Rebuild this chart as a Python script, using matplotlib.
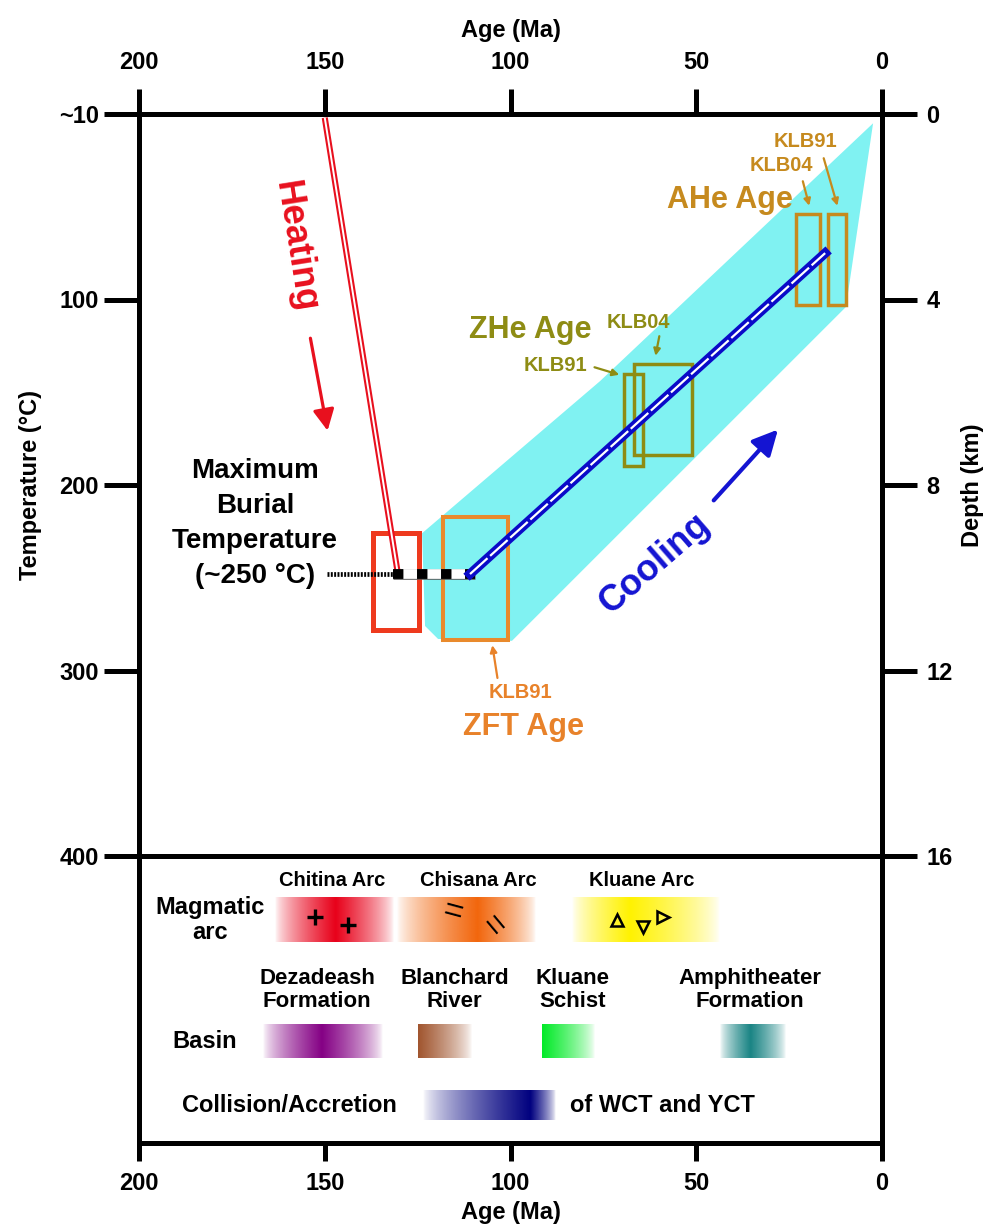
import numpy as np
import matplotlib
matplotlib.use("Agg")
import matplotlib.pyplot as plt
from matplotlib.patches import Rectangle, Polygon

plt.rcParams['font.family'] = ['Liberation Sans', 'DejaVu Sans']
plt.rcParams['font.weight'] = 'bold'
plt.rcParams['axes.labelweight'] = 'bold'
plt.rcParams['lines.scale_dashes'] = False

# ---------------- data ----------------
age_ticks = [200, 150, 100, 50, 0]
age_tick_labels = ['200', '150', '100', '50', '0']
temp_ticks = [0, 100, 200, 300, 400]
temp_tick_labels = ['~10', '100', '200', '300', '400']
depth_ticks = [0, 4, 8, 12, 16]

# thermal history path
heating_age = [150.0, 130.3]
heating_temp = [2.0, 248.0]
burial_lead_age = [149.4, 130.3]
burial_age = [131.6, 109.6]
burial_temp = [248.0, 248.0]
cooling_age = [110.9, 15.3]
cooling_temp = [248.0, 75.0]

# cooling envelope
envelope_age = [2.4, 75.9, 123.8, 123.0, 119.5, 99.6, 9.7]
envelope_temp = [5.0, 144.0, 226.0, 276.0, 283.0, 284.0, 104.0]

# age-temperature boxes
box_names = ['Max burial', 'ZFT KLB91', 'ZHe KLB91', 'ZHe KLB04', 'AHe KLB04', 'AHe KLB91']
box_age_old = [137.0, 118.2, 69.4, 66.8, 23.1, 14.5]
box_age_young = [124.6, 100.7, 64.3, 51.1, 16.7, 9.7]
box_temp_top = [226.0, 217.5, 140.4, 135.0, 54.0, 54.0]
box_temp_bottom = [278.0, 283.8, 189.5, 184.0, 103.0, 103.0]
box_colors = ['#EE3A1E', '#E98A2C', '#8E8C14', '#8E8C14', '#C68A1E', '#C68A1E']
box_lw = [3.6, 2.9, 2.5, 2.5, 2.5, 2.5]

# geological units (lower panel)
unit_names = ['Chitina Arc', 'Chisana Arc', 'Kluane Arc', 'Dezadeash Formation',
              'Blanchard River', 'Kluane Schist', 'Amphitheater Formation',
              'Collision/Accretion']
unit_age_old = [163.4, 130.6, 83.4, 166.6, 124.9, 91.5, 43.6, 123.6]
unit_age_peak = [147.2, 109.0, 67.8, 150.7, 124.9, 91.5, 35.5, 94.8]
unit_age_young = [131.6, 93.4, 43.6, 134.3, 110.4, 77.3, 26.1, 88.0]
unit_colors = [(0.91, 0.0, 0.10), (0.95, 0.40, 0.05), (1.0, 0.95, 0.0),
               (0.52, 0.0, 0.52), (0.63, 0.33, 0.18), (0.0, 0.92, 0.15),
               (0.10, 0.52, 0.52), (0.0, 0.0, 0.50)]
unit_row = ['arc', 'arc', 'arc', 'basin', 'basin', 'basin', 'basin', 'collision']

# symbols on arc bars
chitina_sym_age = [152.6, 143.7]
chisana_sym_age = [115.7, 105.0]
kluane_sym_age = [71.3, 64.3, 59.0]

# ---------------- figure ----------------
W, H = 987, 1225
fig = plt.figure(figsize=(W / 100, H / 100), dpi=100)
ax = fig.add_axes([139 / W, 1 - 856 / H, 743 / W, 742 / H])
ax2 = fig.add_axes([139 / W, 1 - 1143 / H, 743 / W, 287 / H])

FS = 17
SPW = 3.6

# envelope
ax.add_patch(Polygon(np.column_stack([envelope_age, envelope_temp]), closed=True,
                     facecolor='#80F2F2', edgecolor='none', zorder=1))

# boxes
for a0, a1, t0, t1, c, lw in zip(box_age_old, box_age_young, box_temp_top,
                                  box_temp_bottom, box_colors, box_lw):
    ax.add_patch(Rectangle((a1, t0), a0 - a1, t1 - t0, facecolor='none',
                           edgecolor=c, lw=lw, zorder=3))

# heating path (double red line)
ax.plot(heating_age, heating_temp, color='#E8101E', lw=4.4, solid_capstyle='butt', zorder=4)
ax.plot(heating_age, heating_temp, color='white', lw=1.4, solid_capstyle='butt', zorder=4)

# max burial dotted lead + square dashes
ax.plot(burial_lead_age, burial_temp, color='black', lw=3.4,
        linestyle=(0, (1.4, 1.0)), dash_capstyle='butt', zorder=4)
ax.plot(burial_age, burial_temp, color='#555555', lw=7.6, solid_capstyle='butt', zorder=5)
ax.plot(burial_age, burial_temp, color='black', lw=7.0, linestyle=(0, (7.4, 9.9)),
        gapcolor='white', dash_capstyle='butt', solid_capstyle='butt', zorder=5)

# cooling path (blue with white dashed core)
ax.plot(cooling_age, cooling_temp, color='#0A0AC8', lw=6.8, solid_capstyle='projecting', zorder=5)
ax.plot(cooling_age, cooling_temp, color='white', lw=1.6, linestyle=(0, (17, 2.5)),
        dash_capstyle='butt', zorder=6)

# annotations main panel
red = '#E8101E'
blue = '#1414D2'
ax.text(158.0, 71.5, 'Heating', color=red, fontsize=26, rotation=-81,
        ha='center', va='center', rotation_mode='anchor')
ax.annotate('', xy=(149.1, 172.2), xytext=(154.0, 119.4),
            arrowprops=dict(arrowstyle='-|>', color=red, lw=2.3, mutation_scale=32))
ax.text(61.1, 242.3, 'Cooling', color=blue, fontsize=26, rotation=41,
        ha='center', va='center', rotation_mode='anchor')
ax.annotate('', xy=(27.5, 169.0), xytext=(45.8, 209.4),
            arrowprops=dict(arrowstyle='-|>', color=blue, lw=3.0, mutation_scale=38))

ax.text(168.8, 220.5, 'Maximum\nBurial\nTemperature\n(~250 °C)', fontsize=20,
        ha='center', va='center', linespacing=1.45, color='black')

zft_c = '#E8822A'
zhe_c = '#8E8C14'
ahe_c = '#C68A1E'
ax.text(96.4, 330.7, 'ZFT Age', color=zft_c, fontsize=22, ha='center', va='center')
ax.text(97.4, 311.9, 'KLB91', color=zft_c, fontsize=14.5, ha='center', va='center')
ax.annotate('', xy=(105.0, 284.9), xytext=(103.4, 305.5),
            arrowprops=dict(arrowstyle='-|>', color=zft_c, lw=1.6, mutation_scale=10))

ax.text(94.8, 116.7, 'ZHe Age', color=zhe_c, fontsize=22, ha='center', va='center')
ax.text(65.7, 112.4, 'KLB04', color=zhe_c, fontsize=14.5, ha='center', va='center')
ax.annotate('', xy=(61.1, 131.8), xytext=(59.8, 118.3),
            arrowprops=dict(arrowstyle='-|>', color=zhe_c, lw=1.6, mutation_scale=10))
ax.text(87.8, 135.6, 'KLB91', color=zhe_c, fontsize=14.5, ha='center', va='center')
ax.annotate('', xy=(70.0, 141.0), xytext=(78.1, 136.1),
            arrowprops=dict(arrowstyle='-|>', color=zhe_c, lw=1.6, mutation_scale=10))

ax.text(40.9, 46.6, 'AHe Age', color=ahe_c, fontsize=22, ha='center', va='center')
ax.text(27.2, 27.8, 'KLB04', color=ahe_c, fontsize=14.5, ha='center', va='center')
ax.annotate('', xy=(19.4, 50.9), xytext=(21.5, 34.8),
            arrowprops=dict(arrowstyle='-|>', color=ahe_c, lw=1.6, mutation_scale=10))
ax.text(20.5, 14.8, 'KLB91', color=ahe_c, fontsize=14.5, ha='center', va='center')
ax.annotate('', xy=(11.8, 50.9), xytext=(15.9, 22.4),
            arrowprops=dict(arrowstyle='-|>', color=ahe_c, lw=1.6, mutation_scale=10))

# axes styling main
ax.set_xlim(200, 0)
ax.set_ylim(400, 0)
ax.xaxis.tick_top()
ax.xaxis.set_label_position('top')
ax.set_xticks(age_ticks)
ax.set_xticklabels(age_tick_labels)
ax.set_yticks(temp_ticks)
ax.set_yticklabels(temp_tick_labels)
ax.tick_params(axis='x', direction='out', length=18, width=SPW, pad=11, labelsize=FS)
ax.tick_params(axis='y', direction='out', length=25, width=SPW, pad=4, labelsize=FS)
ax.set_xlabel('Age (Ma)', fontsize=FS, fontweight='bold', labelpad=10)
ax.set_ylabel('Temperature (°C)', fontsize=FS, fontweight='bold', labelpad=12)
for s in ax.spines.values():
    s.set_linewidth(SPW)

sec = ax.secondary_yaxis('right', functions=(lambda t: t / 25.0, lambda d: d * 25.0))
sec.set_yticks(depth_ticks)
sec.set_yticklabels([str(d) for d in depth_ticks])
sec.tick_params(direction='out', length=25, width=SPW, pad=7, labelsize=FS)
sec.spines['right'].set_linewidth(SPW)
sec.set_ylabel('Depth (km)', fontsize=FS, fontweight='bold', labelpad=6)

# ---------------- lower panel ----------------
row_y = {'arc': (41, 86), 'basin': (168, 202), 'collision': (234, 264)}
for name, a0, ap, a1, col, row in zip(unit_names, unit_age_old, unit_age_peak,
                                      unit_age_young, unit_colors, unit_row):
    n = 300
    a = np.linspace(a0, a1, n)
    alpha = np.where(a <= ap,
                     np.interp(a, [a1, ap], [0.0, 1.0]),
                     np.interp(a, [ap, a0], [1.0, 0.0]))
    alpha = np.clip(alpha, 0, 1) ** 0.7
    img = np.zeros((1, n, 4))
    img[0, :, 0] = col[0]
    img[0, :, 1] = col[1]
    img[0, :, 2] = col[2]
    img[0, :, 3] = alpha
    y0, y1 = row_y[row]
    ax2.imshow(img, extent=(a0, a1, y1, y0), aspect='auto', interpolation='bilinear',
               zorder=2)

# symbols
ax2.plot(chitina_sym_age, [61, 69], linestyle='none', marker='+', markersize=12,
         mew=2.4, color='black', zorder=3)
for a, y, r in zip(chisana_sym_age, [57, 71], [-15, -50]):
    ax2.text(a, y, '=', fontsize=24, rotation=r, ha='center', va='center',
             color='black', zorder=3, fontweight='normal')
for a, y, m in zip(kluane_sym_age, [64, 71, 61], ['^', 'v', '>']):
    ax2.plot([a], [y], linestyle='none', marker=m, markersize=9, mew=1.8,
             markerfacecolor='none', markeredgecolor='black', zorder=3)

ax2.text(148.0, 24, 'Chitina Arc', fontsize=14.5, ha='center', va='center')
ax2.text(108.7, 24, 'Chisana Arc', fontsize=14.5, ha='center', va='center')
ax2.text(64.6, 24, 'Kluane Arc', fontsize=14.5, ha='center', va='center')
ax2.text(180.9, 64, 'Magmatic\narc', fontsize=17, ha='center', va='center', linespacing=1.1)
ax2.text(152.1, 134, 'Dezadeash\nFormation', fontsize=16, ha='center', va='center', linespacing=1.15)
ax2.text(115.0, 134, 'Blanchard\nRiver', fontsize=16, ha='center', va='center', linespacing=1.15)
ax2.text(83.4, 134, 'Kluane\nSchist', fontsize=16, ha='center', va='center', linespacing=1.15)
ax2.text(35.5, 134, 'Amphitheater\nFormation', fontsize=16, ha='center', va='center', linespacing=1.15)
ax2.text(182.2, 186, 'Basin', fontsize=17, ha='center', va='center')
ax2.text(159.4, 250, 'Collision/Accretion', fontsize=17, ha='center', va='center')
ax2.text(59.2, 250, 'of WCT and YCT', fontsize=17, ha='center', va='center')

ax2.set_xlim(200, 0)
ax2.set_ylim(287, 0)
ax2.set_xticks(age_ticks)
ax2.set_xticklabels(age_tick_labels)
ax2.set_yticks([])
ax2.tick_params(axis='x', direction='out', length=13, width=SPW, pad=8, labelsize=FS)
ax2.set_xlabel('Age (Ma)', fontsize=FS, fontweight='bold', labelpad=4)
for s in ax2.spines.values():
    s.set_linewidth(SPW)

fig.savefig('out.png', dpi=100)
